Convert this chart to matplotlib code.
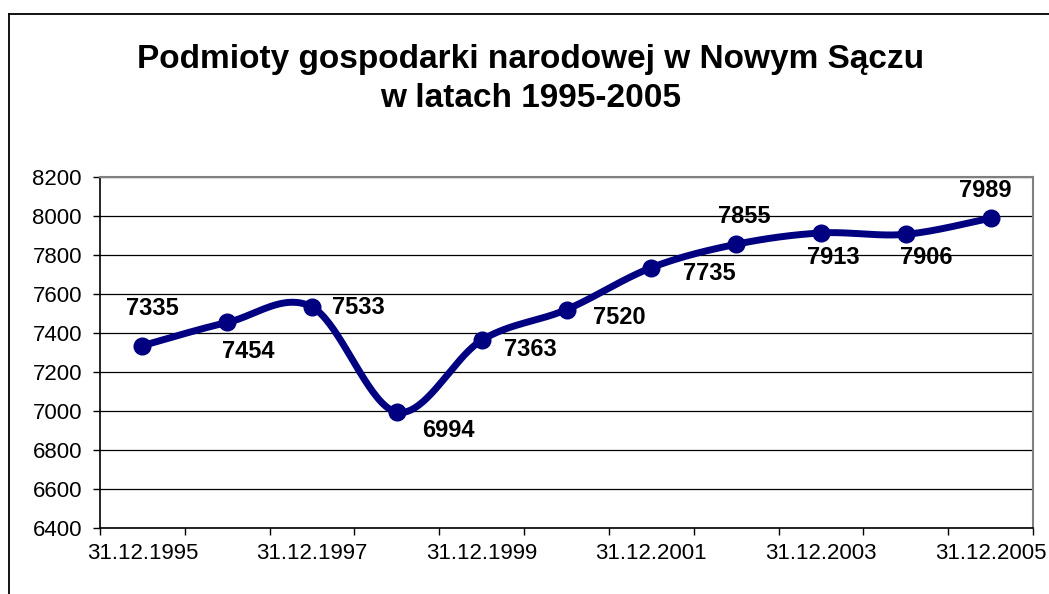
import numpy as np
import matplotlib.pyplot as plt
from matplotlib.lines import Line2D

plt.rcParams['font.family'] = ['Liberation Sans', 'DejaVu Sans']

dates = ["31.12.1995", "31.12.1996", "31.12.1997", "31.12.1998", "31.12.1999",
         "31.12.2000", "31.12.2001", "31.12.2002", "31.12.2003", "31.12.2004",
         "31.12.2005"]
podmioty = [7335, 7454, 7533, 6994, 7363, 7520, 7735, 7855, 7913, 7906, 7989]

# label offsets in points (dx, dy) relative to each point, as placed in the original
label_offsets = [(7, 27), (15, -21), (33, 0), (37, -13), (35, -6.5), (38, -6),
                 (42, -4), (6, 20), (9, -18), (15, -17), (-4, 20)]


def catmull_rom(x, y, n=40):
    # Excel-style smoothed line: cubic Bezier with tension 1/6
    x = np.asarray(x, float)
    y = np.asarray(y, float)
    px = np.concatenate([[x[0]], x, [x[-1]]])
    py = np.concatenate([[y[0]], y, [y[-1]]])
    xs, ys = [], []
    t = np.linspace(0, 1, n)
    for i in range(1, len(px) - 2):
        p0 = np.array([px[i], py[i]])
        p3 = np.array([px[i + 1], py[i + 1]])
        c1 = p0 + (np.array([px[i + 1], py[i + 1]]) - np.array([px[i - 1], py[i - 1]])) / 6
        c2 = p3 - (np.array([px[i + 2], py[i + 2]]) - np.array([px[i], py[i]])) / 6
        b = ((1 - t) ** 3)[:, None] * p0 + (3 * (1 - t) ** 2 * t)[:, None] * c1 \
            + (3 * (1 - t) * t ** 2)[:, None] * c2 + (t ** 3)[:, None] * p3
        xs.append(b[:, 0])
        ys.append(b[:, 1])
    return np.concatenate(xs), np.concatenate(ys)


fig = plt.figure(figsize=(10.49, 5.94), dpi=100)
ax = fig.add_axes([100 / 1049, 1 - 528 / 594, 933 / 1049, 351 / 594])

xi = np.arange(len(podmioty))
sx, sy = catmull_rom(xi, podmioty)
navy = "#000080"
ax.plot(sx, sy, color=navy, linewidth=5, solid_capstyle="round", zorder=3)
ax.plot(xi, podmioty, "o", color=navy, markersize=12, zorder=4)

for x, v, (dx, dy) in zip(xi, podmioty, label_offsets):
    ax.annotate(str(v), (x, v), xytext=(dx, dy), textcoords="offset points",
                ha="center", va="center", fontsize=17, fontweight="bold", zorder=5)

ax.set_ylim(6400, 8200)
ax.set_yticks(np.arange(6400, 8201, 200))
ax.set_xlim(-0.5, len(podmioty) - 0.5)
ax.set_xticks(np.arange(-0.5, len(podmioty), 1.0))
ax.set_xticklabels([])
ax.set_xticks(xi[::2], minor=True)
ax.set_xticklabels(dates[::2], minor=True)
ax.tick_params(axis="x", which="minor", length=0, pad=11, labelsize=16)
ax.tick_params(axis="x", which="major", length=5, width=1, direction="out")
ax.tick_params(axis="y", length=5, width=1, direction="out", labelsize=16, pad=8)

ax.grid(axis="y", color="black", linewidth=0.9)
ax.set_axisbelow(True)
for side in ["top", "right"]:
    ax.spines[side].set_color("#808080")
    ax.spines[side].set_linewidth(1.5)
for side in ["left", "bottom"]:
    ax.spines[side].set_color("black")
    ax.spines[side].set_linewidth(1.2)

fig.text(531 / 1049, 1 - 79 / 594,
         "Podmioty gospodarki narodowej w Nowym Sączu\nw latach 1995-2005",
         ha="center", va="center", fontsize=24, fontweight="bold", linespacing=1.3)

# outer chart-area border (only left and top visible in the crop)
fig.add_artist(Line2D([9 / 1049, 9 / 1049], [0, 1 - 14 / 594], color="black",
                      linewidth=1.3, transform=fig.transFigure))
fig.add_artist(Line2D([9 / 1049, 1], [1 - 14 / 594, 1 - 14 / 594], color="black",
                      linewidth=1.3, transform=fig.transFigure))

fig.savefig("out.png", dpi=100)
